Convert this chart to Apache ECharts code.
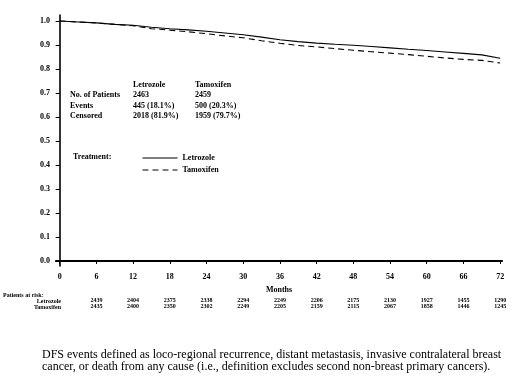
<!DOCTYPE html>
<html><head><meta charset="utf-8">
<script src="https://cdn.jsdelivr.net/npm/echarts@6/dist/echarts.min.js"></script>
<style>html,body{margin:0;padding:0;background:#fff;}#c{width:523px;height:382px;}</style>
</head><body><div id="c"></div>
<script>
// ---- data ----
var months = [0,3,6,9,12,15,18,21,24,27,30,33,36,39,42,45,48,51,54,57,60,63,66,69,72];
var letrozole = [1.000,0.996,0.992,0.986,0.982,0.974,0.968,0.963,0.957,0.950,0.943,0.933,0.922,0.914,0.908,0.903,0.899,0.894,0.888,0.882,0.877,0.871,0.865,0.859,0.845];
var tamoxifen = [1.000,0.996,0.992,0.986,0.980,0.968,0.962,0.955,0.947,0.938,0.930,0.918,0.907,0.898,0.892,0.885,0.878,0.872,0.866,0.860,0.853,0.846,0.840,0.836,0.825];
var xTicks = [0,6,12,18,24,30,36,42,48,54,60,66,72];
var yTicks = [0,0.1,0.2,0.3,0.4,0.5,0.6,0.7,0.8,0.9,1.0];
var riskMonths = [6,12,18,24,30,36,42,48,54,60,66,72];
var riskLetrozole = [2439,2404,2375,2338,2294,2249,2206,2175,2130,1927,1455,1290];
var riskTamoxifen = [2435,2400,2350,2302,2249,2205,2159,2115,2067,1858,1446,1245];
var tableHeader = ['', 'Letrozole', 'Tamoxifen'];
var tableRows = [
  ['No. of Patients', '2463', '2459'],
  ['Events', '445 (18.1%)', '500 (20.3%)'],
  ['Censored', '2018 (81.9%)', '1959 (79.7%)']
];
var footnote = [
  'DFS events defined as loco-regional recurrence, distant metastasis, invasive contralateral breast',
  'cancer, or death from any cause (i.e., definition excludes second non-breast primary cancers).'
];

function pairs(xs, ys){ return xs.map(function(x,i){ return [x, ys[i]]; }); }

var F = 'Liberation Serif';
var lab = {fontFamily:F, fontWeight:'bold', fontSize:8, color:'#000'};

var chart = echarts.init(document.getElementById('c'), null, {renderer:'canvas'});

var graphics = [];
var colX = [73, 133, 195];
graphics.push({type:'text', left:colX[1], top:81, style:{text:tableHeader[1], font:'bold 8px '+F, fill:'#000'}});
graphics.push({type:'text', left:colX[2], top:81, style:{text:tableHeader[2], font:'bold 8px '+F, fill:'#000'}});
tableRows.forEach(function(r, i){
  r.forEach(function(t, j){
    graphics.push({type:'text', left:colX[j] - (j===0?3:0), top:91 + i*10.5, style:{text:t, font:'bold 8px '+F, fill:'#000'}});
  });
});
graphics.push({type:'text', left:73, top:153, style:{text:'Treatment:', font:'bold 8px '+F, fill:'#000'}});
graphics.push({type:'text', left:3, top:292, style:{text:'Patients at risk:', font:'bold 6px '+F, fill:'#000'}});
graphics.push({type:'text', right:523-61, top:298, style:{text:'Letrozole', font:'bold 6px '+F, fill:'#000', textAlign:'right'}});
graphics.push({type:'text', right:523-61, top:304, style:{text:'Tamoxifen', font:'bold 6px '+F, fill:'#000', textAlign:'right'}});
graphics.push({type:'text', left:42, top:349, style:{text:footnote.join('\n'), font:'12px '+F, fill:'#000', lineHeight:12}});

function riskAxis(offset, arr){
  return {
    type:'value', min:-0.6, max:72.3, position:'bottom', offset:offset,
    axisLine:{show:false}, axisTick:{show:false}, splitLine:{show:false},
    axisLabel:{customValues:riskMonths, margin:0, fontFamily:F, fontWeight:'bold', fontSize:6, color:'#000',
      formatter:function(v){ var i = riskMonths.indexOf(Math.round(v)); return i>=0 ? String(arr[i]) : ''; }}
  };
}

chart.setOption({
  animation:false,
  backgroundColor:'#fff',
  grid:{left:56, right:21, top:15, bottom:116, containLabel:false},
  xAxis:[{
    type:'value', min:-0.6, max:72.3, position:'bottom',
    name:'Months', nameLocation:'middle', nameGap:20,
    nameTextStyle:{fontFamily:F, fontWeight:'bold', fontSize:8, color:'#000'},
    axisLine:{show:true, lineStyle:{color:'#000', width:2.2}},
    axisTick:{show:true, customValues:xTicks, length:3, lineStyle:{color:'#000', width:1}},
    axisLabel:Object.assign({customValues:xTicks, margin:7}, lab),
    splitLine:{show:false}
  }, riskAxis(31, riskLetrozole), riskAxis(37, riskTamoxifen)],
  yAxis:{
    type:'value', min:-0.0208, max:1.025,
    axisLine:{show:true, lineStyle:{color:'#000', width:1.6}},
    axisTick:{show:true, customValues:yTicks, length:4, lineStyle:{color:'#000', width:1}},
    axisLabel:Object.assign({customValues:yTicks, margin:6, formatter:function(v){return v.toFixed(1);}}, lab),
    splitLine:{show:false}
  },
  legend:{
    orient:'vertical', left:137, top:149, itemWidth:35, itemHeight:8, itemGap:4,
    itemStyle:{opacity:0},
    lineStyle:{width:1},
    textStyle:{fontFamily:F, fontWeight:'bold', fontSize:8, color:'#000'},
    data:['Letrozole','Tamoxifen']
  },
  series:[
    {name:'Letrozole', type:'line', symbol:'none', data:pairs(months, letrozole),
     lineStyle:{color:'#000', width:1.1}, itemStyle:{color:'#000'}},
    {name:'Tamoxifen', type:'line', symbol:'none', data:pairs(months, tamoxifen),
     lineStyle:{color:'#000', width:1.1, type:[6,4]}, itemStyle:{color:'#000'}}
  ],
  graphic:graphics
});
</script>
</body></html>
